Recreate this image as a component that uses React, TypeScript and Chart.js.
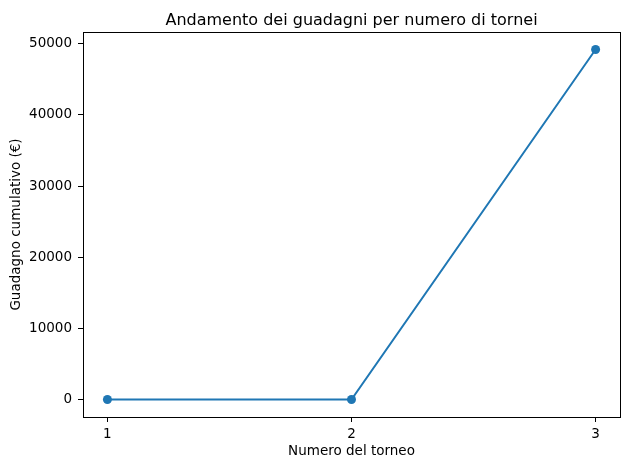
import React, { useEffect, useRef } from "react";
import { Chart, registerables } from "chart.js";

Chart.register(...registerables);

const torneo = [1, 2, 3];
const guadagno = [0, 0, 49200];
const yTicks = [0, 10000, 20000, 30000, 40000, 50000];
const xTicks = [1, 2, 3];
const titolo = "Andamento dei guadagni per numero di tornei";

const FONT = "'DejaVu Sans', sans-serif";

const framePlugin = {
  id: "frame",
  afterDraw(chart: any) {
    const { ctx, chartArea } = chart;
    ctx.save();
    ctx.strokeStyle = "#000";
    ctx.lineWidth = 1;
    ctx.strokeRect(
      Math.round(chartArea.left) + 0.5,
      Math.round(chartArea.top) + 0.5,
      Math.round(chartArea.right - chartArea.left),
      Math.round(chartArea.bottom - chartArea.top)
    );
    ctx.fillStyle = "#000";
    ctx.font = `16px ${FONT}`;
    ctx.textAlign = "center";
    ctx.textBaseline = "alphabetic";
    ctx.fillText(titolo, (chartArea.left + chartArea.right) / 2, chartArea.top - 7);
    ctx.restore();
  },
};

export default function App() {
  const ref = useRef<HTMLCanvasElement>(null);
  useEffect(() => {
    if (!ref.current) return;
    const chart = new Chart(ref.current, {
      type: "line",
      data: {
        datasets: [
          {
            data: torneo.map((x, i) => ({ x, y: guadagno[i] })),
            borderColor: "#1f77b4",
            backgroundColor: "#1f77b4",
            borderWidth: 2,
            pointRadius: 4.5,
            pointBorderWidth: 0,
            pointBackgroundColor: "#1f77b4",
            tension: 0,
          },
        ],
      },
      plugins: [framePlugin],
      options: {
        responsive: false,
        animation: false,
        devicePixelRatio: 1,
        layout: { padding: { left: 0, right: 10, top: 32, bottom: 0 } },
        plugins: {
          legend: { display: false },
          tooltip: { enabled: false },
          title: { display: false },
        },
        scales: {
          x: {
            type: "linear",
            min: 0.9,
            max: 3.1,
            afterBuildTicks: (s: any) => {
              s.ticks = xTicks.map((v) => ({ value: v }));
            },
            afterFit: (s: any) => {
              s.height = 53;
            },
            grid: {
              drawOnChartArea: false,
              drawTicks: true,
              tickLength: 5,
              tickColor: "#000",
            },
            border: { display: false },
            ticks: {
              color: "#000",
              padding: 4,
              font: { family: FONT, size: 13.5 },
              maxRotation: 0,
            },
            title: {
              display: true,
              text: "Numero del torneo",
              color: "#000",
              font: { family: FONT, size: 13.5 },
              padding: { top: 0, bottom: 10 },
            },
          },
          y: {
            type: "linear",
            min: -2460,
            max: 51660,
            afterBuildTicks: (s: any) => {
              s.ticks = yTicks.map((v) => ({ value: v }));
            },
            afterFit: (s: any) => {
              s.width = 83;
            },
            grid: {
              drawOnChartArea: false,
              drawTicks: true,
              tickLength: 5,
              tickColor: "#000",
            },
            border: { display: false },
            ticks: {
              color: "#000",
              padding: 6,
              font: { family: FONT, size: 13.5 },
              callback: (v: any) => String(v),
            },
            title: {
              display: true,
              text: "Guadagno cumulativo (€)",
              color: "#000",
              font: { family: FONT, size: 13.5 },
              padding: { top: 8, bottom: 0 },
            },
          },
        },
      },
    });
    return () => chart.destroy();
  }, []);
  return (
    <div style={{ position: "absolute", left: 0, top: 0, width: 630, height: 470, background: "#fff" }}>
      <canvas ref={ref} width={630} height={470} />
    </div>
  );
}
